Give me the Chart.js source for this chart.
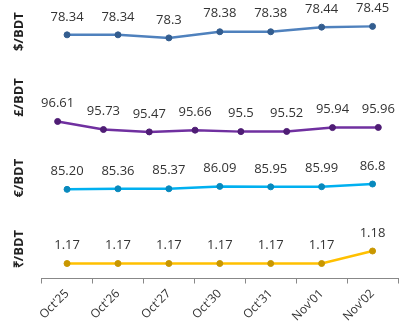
<!DOCTYPE html>
<html>
<head>
<meta charset="utf-8">
<script src="https://cdn.jsdelivr.net/npm/chart.js@4.4.1/dist/chart.umd.min.js"></script>
<style>
  html, body { margin: 0; padding: 0; background: #fff; }
  #wrap { width: 414px; height: 336px; }
</style>
</head>
<body>
<div id="wrap"><canvas id="myChart"></canvas></div>
<script>
const dias = ["Oct'25", "Oct'26", "Oct'27", "Oct'30", "Oct'31", "Nov'01", "Nov'02"];

// valores como aparecem nos rótulos
const usd = ['78.34', '78.34', '78.3', '78.38', '78.38', '78.44', '78.45'];
// a série da libra tem 8 pontos no original
const gbp = ['96.61', '95.73', '95.47', '95.66', '95.5', '95.52', '95.94', '95.96'];
const eur = ['85.20', '85.36', '85.37', '86.09', '85.95', '85.99', '86.8'];
const inr = ['1.17', '1.17', '1.17', '1.17', '1.17', '1.17', '1.18'];

const titulos = ['$/BDT', '£/BDT', '€/BDT', '₹/BDT'];

Chart.defaults.font.family = "'Open Sans', sans-serif";
Chart.defaults.color = '#333';

// rótulos de dados acima de cada ponto
const rotulos = {
  id: 'rotulos',
  afterDatasetsDraw(chart) {
    const c = chart.ctx;
    c.save();
    c.font = '13px "Open Sans", sans-serif';
    c.fillStyle = '#333';
    c.textAlign = 'center';
    c.textBaseline = 'middle';
    chart.data.datasets.forEach((ds, i) => {
      chart.getDatasetMeta(i).data.forEach((pt, j) => {
        c.fillText(ds.textos[j], pt.x, pt.y - 18);
      });
    });
    c.restore();
  }
};

function serie(textos, cor, escura, eixo) {
  return {
    data: textos.map(Number),
    textos: textos,
    yAxisID: eixo,
    borderColor: cor,
    backgroundColor: cor,
    pointBackgroundColor: escura,
    pointBorderColor: escura,
    pointBorderWidth: 1,
    pointRadius: 3,
    borderWidth: 2.5,
    tension: 0
  };
}

function eixoY(titulo, min, max, peso) {
  return {
    type: 'linear',
    position: 'left',
    stack: 'moedas',
    stackWeight: peso,
    min: min,
    max: max,
    grid: { display: false },
    border: { display: false },
    ticks: { display: false },
    title: {
      display: true,
      text: titulo,
      color: '#222',
      font: { size: 13, weight: 'bold' },
      padding: { top: 4, bottom: 7 }
    }
  };
}

const libra = serie(gbp, '#7030a0', '#4f1d75', 'yGbp');
libra.data = gbp.map((v, i) => ({ x: i, y: Number(v) }));
libra.xAxisID = 'x2';

new Chart(document.getElementById('myChart'), {
  type: 'line',
  data: {
    labels: dias,
    datasets: [
      serie(usd, '#4f81bd', '#335d8f', 'yUsd'),
      libra,
      serie(eur, '#00b0f0', '#0889bd', 'yEur'),
      serie(inr, '#ffc000', '#c99700', 'yInr')
    ]
  },
  options: {
    responsive: true,
    maintainAspectRatio: false,
    animation: false,
    layout: { padding: { left: 7, right: 16, top: 0, bottom: 9 } },
    plugins: {
      legend: { display: false },
      tooltip: { enabled: false }
    },
    scales: {
      x: {
        offset: true,
        grid: {
          offset: true,
          drawOnChartArea: false,
          drawTicks: true,
          tickLength: 5,
          color: '#888'
        },
        border: { display: true, color: '#888', width: 1 },
        ticks: {
          minRotation: 45,
          maxRotation: 45,
          color: '#333',
          font: { size: 12 }
        }
      },
      x2: {
        type: 'linear',
        display: false,
        min: -0.35,
        max: 7.43
      },
      // a pilha começa por baixo
      yInr: eixoY(titulos[3], 1.158, 1.2052, 60),
      yEur: eixoY(titulos[2], 76.13, 101.0, 84),
      yGbp: eixoY(titulos[1], 94.93, 103.53, 80),
      yUsd: eixoY(titulos[0], 78.037, 78.728, 54)
    }
  },
  plugins: [rotulos]
});
</script>
</body>
</html>
